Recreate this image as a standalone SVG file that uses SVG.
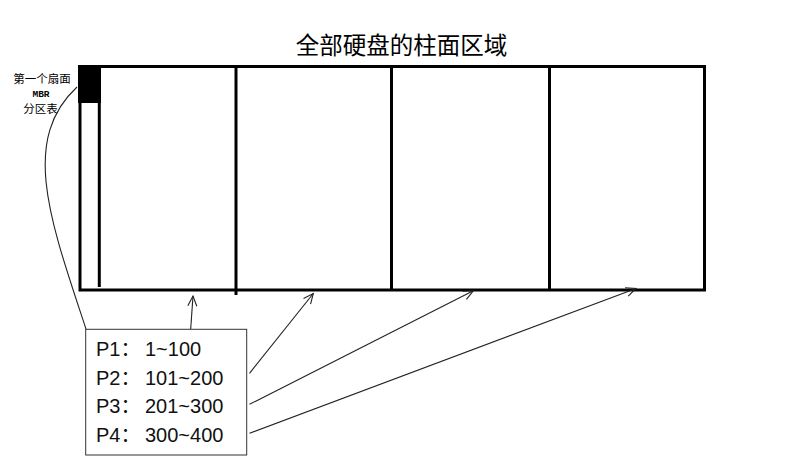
<svg xmlns="http://www.w3.org/2000/svg" width="795" height="474" viewBox="0 0 795 474">
<style>
.frame{fill:none;stroke:#000;stroke-width:3}
.div{stroke:#000;stroke-width:3}
.conn{fill:none;stroke:#222;stroke-width:1.1}
.cjk{font-family:"Noto Sans CJK SC","Liberation Sans",sans-serif;fill:#000}
.lst{font-family:"Liberation Sans","Noto Sans CJK SC",sans-serif;font-size:20px;fill:#111}
</style>
<defs>
<marker id="ah" markerWidth="12" markerHeight="12" refX="10" refY="5" orient="auto" markerUnits="userSpaceOnUse" overflow="visible">
<path d="M0,0.5 L10,5 L0,9.5" fill="none" stroke="#222" stroke-width="1.1"/>
</marker>
</defs>
<rect width="795" height="474" fill="#fff"/>
<g id="title"><text class="cjk" x="401.5" y="54" font-size="23.5" text-anchor="middle">全部硬盘的柱面区域</text></g>
<g id="disk">
<rect x="78" y="65" width="23" height="38" fill="#000"/>
<rect class="frame" x="80" y="66.5" width="624.5" height="223.5"/>
<line class="div" x1="99.3" y1="66" x2="99.3" y2="287"/>
<line class="div" x1="236" y1="66" x2="236" y2="295"/>
<line class="div" x1="391.5" y1="66" x2="391.5" y2="290"/>
<line class="div" x1="549.5" y1="66" x2="549.5" y2="290"/>
</g>
<g id="mbr-label">
<text class="cjk" x="42" y="83" font-size="11.5" text-anchor="middle">第一个扇面</text>
<text x="41" y="97" font-family="Liberation Mono, monospace" font-size="9.5" font-weight="bold" text-anchor="middle">MBR</text>
<text class="cjk" x="40.5" y="113" font-size="11.5" text-anchor="middle">分区表</text>
</g>
<g id="partitions">
<rect x="85.7" y="329.3" width="161" height="125.7" fill="#fff" stroke="#333" stroke-width="1"/>
<text class="lst" x="96" y="356">P1：<tspan x="145">1~100</tspan></text>
<text class="lst" x="96" y="384.5">P2：<tspan x="145">101~200</tspan></text>
<text class="lst" x="96" y="413">P3：<tspan x="145">201~300</tspan></text>
<text class="lst" x="96" y="441.5">P4：<tspan x="145">300~400</tspan></text>
</g>
<g id="connectors">
<path class="conn" d="M77,87 C20,140 50,220 86,329"/>
<line class="conn" x1="190.7" y1="329" x2="193" y2="296" marker-end="url(#ah)"/>
<line class="conn" x1="249.5" y1="373.3" x2="313.3" y2="293.5" marker-end="url(#ah)"/>
<line class="conn" x1="249.5" y1="404.3" x2="473.3" y2="290.8" marker-end="url(#ah)"/>
<line class="conn" x1="249.5" y1="433.3" x2="636" y2="288.5" marker-end="url(#ah)"/>
</g>
</svg>
